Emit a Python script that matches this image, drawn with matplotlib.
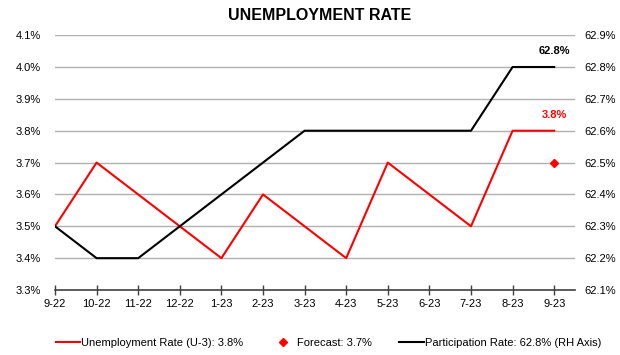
import matplotlib
matplotlib.use("Agg")
import matplotlib.pyplot as plt
from matplotlib.lines import Line2D

plt.rcParams['font.family'] = ['Liberation Sans', 'DejaVu Sans']

months = ["9-22", "10-22", "11-22", "12-22", "1-23", "2-23", "3-23",
          "4-23", "5-23", "6-23", "7-23", "8-23", "9-23"]
unemp = [3.5, 3.7, 3.6, 3.5, 3.4, 3.6, 3.5, 3.4, 3.7, 3.6, 3.5, 3.8, 3.8]
partic = [62.3, 62.2, 62.2, 62.3, 62.4, 62.5, 62.6, 62.6, 62.6, 62.6, 62.6, 62.8, 62.8]
forecast_idx = 12
forecast_val = 3.7

left_ticks = [3.3, 3.4, 3.5, 3.6, 3.7, 3.8, 3.9, 4.0, 4.1]
right_ticks = [62.1, 62.2, 62.3, 62.4, 62.5, 62.6, 62.7, 62.8, 62.9]

fig = plt.figure(figsize=(6.2, 3.55), dpi=100)
ax = fig.add_axes([0.0887, 0.183, 0.8387, 0.718])
ax2 = ax.twinx()

x = list(range(len(months)))

for y in left_ticks[1:]:
    ax.axhline(y, color="#b0b0b0", lw=1.0, zorder=0)

ax.plot(x, unemp, color="#ff0000", lw=1.5, zorder=3)
ax.plot([forecast_idx], [forecast_val], marker="D", color="#ff0000", ms=4, ls="none", zorder=4)
ax2.plot(x, partic, color="black", lw=1.5, zorder=3)

ax.set_xlim(0, 12.5)
ax.set_ylim(3.3, 4.1)
ax2.set_ylim(62.1, 62.9)

fs = 8
ax.set_yticks(left_ticks)
ax.set_yticklabels(["{:.1f}%".format(v) for v in left_ticks], fontsize=fs)
ax2.set_yticks(right_ticks)
ax2.set_yticklabels(["{:.1f}%".format(v) for v in right_ticks], fontsize=fs)
ax.set_xticks(x)
ax.set_xticklabels(months, fontsize=fs)

for a in (ax, ax2):
    for s in ("top", "left", "right", "bottom"):
        a.spines[s].set_visible(False)
ax.spines["bottom"].set_visible(True)
ax.spines["bottom"].set_color("#404040")
ax.spines["bottom"].set_linewidth(1.2)
ax.tick_params(axis="y", length=0, pad=10)
ax2.tick_params(axis="y", length=0, pad=7)
ax.tick_params(axis="x", direction="inout", length=7, width=1, color="#404040", pad=3)

ax.annotate("{:.1f}%".format(unemp[-1]), (x[-1], unemp[-1]), xytext=(0, 8),
            textcoords="offset points", ha="center", va="bottom",
            color="#ff0000", fontsize=fs, fontweight="bold")
ax2.annotate("{:.1f}%".format(partic[-1]), (x[-1], partic[-1]), xytext=(0, 8),
             textcoords="offset points", ha="center", va="bottom",
             color="black", fontsize=fs, fontweight="bold")

fig.text(0.515, 0.955, "UNEMPLOYMENT RATE", ha="center", va="center",
         fontsize=11.5, fontweight="bold")

handles = [
    Line2D([], [], color="#ff0000", lw=1.5),
    Line2D([], [], color="#ff0000", marker="D", ms=4, ls="none"),
    Line2D([], [], color="black", lw=1.5),
]
labels = ["Unemployment Rate (U-3): 3.8%", "Forecast: 3.7%",
          "Participation Rate: 62.8% (RH Axis)"]
fig.legend(handles, labels, loc="center", bbox_to_anchor=(0.53, 0.035), ncol=3,
           frameon=False, fontsize=fs, handlelength=2.2, handletextpad=0.1,
           columnspacing=2.5)

fig.savefig("out.png", dpi=100)
